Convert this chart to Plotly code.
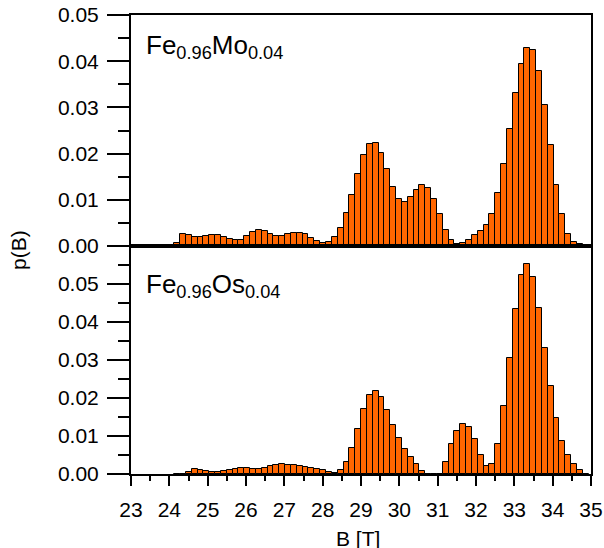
import plotly.graph_objects as go

# bin index relative to the bin starting at 29.0 T, bin width in T
bin_index = list(range(-32, 39))
bin_width = 0.1522
B = [round(29.0 + (k + 0.5) * bin_width, 4) for k in bin_index]

p_mo = [0.00065, 0.0026, 0.0024, 0.0020, 0.0019, 0.0021, 0.0024, 0.0024, 0.0020, 0.0015,
        0.0012, 0.0014, 0.0022, 0.0031, 0.0035, 0.0033, 0.0027, 0.0022, 0.0022, 0.0025,
        0.0028, 0.0029, 0.0025, 0.0017, 0.0010, 0.0007, 0.0009, 0.0019, 0.0040, 0.0071,
        0.0111, 0.0155,
        0.0196, 0.0220, 0.0222, 0.0202, 0.0166, 0.0128, 0.0102, 0.0095, 0.0105, 0.0121,
        0.0131, 0.0125, 0.0102, 0.0069, 0.0035, 0.0012, 0.0004,
        0.0006, 0.0014, 0.0024, 0.0032, 0.0045, 0.0070, 0.0114, 0.0177, 0.0254, 0.0332,
        0.0395, 0.0428, 0.0424, 0.0379, 0.0305, 0.0218, 0.0133, 0.0069, 0.0027, 0.0008,
        0.0005, 0.0001]

p_os = [0.0, 0.0, 0.0004, 0.0012, 0.0010, 0.0007, 0.0004, 0.0004, 0.0007, 0.0010,
        0.0013, 0.0015, 0.0015, 0.0012, 0.0012, 0.0015, 0.0020, 0.0024, 0.0027, 0.0025,
        0.0023, 0.0020, 0.0018, 0.0017, 0.0014, 0.0010, 0.0006, 0.0003, 0.0010, 0.0031,
        0.0068, 0.0119,
        0.0170, 0.0208, 0.0219, 0.0203, 0.0168, 0.0129, 0.0094, 0.0067, 0.0046, 0.0027,
        0.0008,
        0.0, 0.0, 0.0,
        0.0031, 0.0079, 0.0114, 0.0132, 0.0123, 0.0092, 0.0051, 0.0022, 0.0026, 0.0079,
        0.0179, 0.0306, 0.0433, 0.0523, 0.0552, 0.0519, 0.0437, 0.0332, 0.0231, 0.0147,
        0.0088, 0.0049, 0.0026, 0.0011, 0.0001]

x_ticks = list(range(23, 36))
y_ticks = [0.0, 0.01, 0.02, 0.03, 0.04, 0.05]
y_tick_text = ["0.00", "0.01", "0.02", "0.03", "0.04", "0.05"]

FONT = "Arial, Liberation Sans, sans-serif"
ORANGE = "#FF6600"

fig = go.Figure()
fig.add_trace(go.Bar(x=B, y=p_mo, width=bin_width, marker=dict(color=ORANGE, line=dict(color="black", width=1)),
                     xaxis="x", yaxis="y", showlegend=False))
fig.add_trace(go.Bar(x=B, y=p_os, width=bin_width, marker=dict(color=ORANGE, line=dict(color="black", width=1)),
                     xaxis="x2", yaxis="y2", showlegend=False))

split = 228 / 459

common_y = dict(showline=True, linecolor="black", linewidth=2, mirror=True, ticks="outside",
                ticklen=22, tickwidth=2, tickcolor="black", showgrid=False, zeroline=False,
                tickmode="array", tickvals=y_ticks, ticktext=y_tick_text, automargin=False,
                tickfont=dict(family=FONT, size=21, color="black"), ticklabelstandoff=4)

fig.update_layout(
    width=604, height=548,
    margin=dict(l=131, r=13, t=15, b=74),
    paper_bgcolor="white", plot_bgcolor="white",
    bargap=0,
    font=dict(family=FONT, color="black"),
    xaxis=dict(domain=[0, 1], anchor="y", range=[23, 35], showline=True, linecolor="black", linewidth=2,
               mirror=True, ticks="", showticklabels=False, showgrid=False, zeroline=False, automargin=False),
    yaxis=dict(domain=[split, 1], anchor="x", range=[0, 0.05],
               minor=dict(tickmode="array", tickvals=[0.005, 0.015, 0.025, 0.035, 0.045],
                          ticks="outside", ticklen=11, tickwidth=2, tickcolor="black", showgrid=False),
               **common_y),
    xaxis2=dict(domain=[0, 1], anchor="y2", range=[23, 35], showline=True, linecolor="black", linewidth=2,
                mirror=True, ticks="outside", ticklen=10, tickwidth=2, tickcolor="black",
                tickmode="array", tickvals=x_ticks, ticklabelstandoff=6, automargin=False,
                minor=dict(tickmode="array", tickvals=[v + 0.5 for v in x_ticks[:-1]], ticks="outside",
                           ticklen=5, tickwidth=2, tickcolor="black", showgrid=False),
                tickfont=dict(family=FONT, size=21, color="black"), showgrid=False, zeroline=False),
    yaxis2=dict(domain=[0, split], anchor="x2", range=[0, 0.06],
                minor=dict(tickmode="array", tickvals=[0.005, 0.015, 0.025, 0.035, 0.045, 0.055],
                           ticks="outside", ticklen=11, tickwidth=2, tickcolor="black", showgrid=False),
                **common_y),
)

fig.add_annotation(text="Fe<sub>0.96</sub>Mo<sub>0.04</sub>", xref="x", yref="y", x=23.35, y=0.0432,
                   xanchor="left", yanchor="middle", showarrow=False,
                   font=dict(family=FONT, size=26, color="black"))
fig.add_annotation(text="Fe<sub>0.96</sub>Os<sub>0.04</sub>", xref="x2", yref="y2", x=23.35, y=0.0497,
                   xanchor="left", yanchor="middle", showarrow=False,
                   font=dict(family=FONT, size=26, color="black"))
fig.add_annotation(text="B [T]", xref="paper", yref="paper", x=(358 - 131) / 460, y=-(538 - 474) / 459,
                   xanchor="center", yanchor="middle", showarrow=False,
                   font=dict(family=FONT, size=21, color="black"))
fig.add_annotation(text="p(B)", xref="paper", yref="paper", x=-(131 - 18) / 460, y=(474 - 250) / 459,
                   xanchor="center", yanchor="middle", textangle=-90, showarrow=False,
                   font=dict(family=FONT, size=21, color="black"))

fig.write_html("out.html")
